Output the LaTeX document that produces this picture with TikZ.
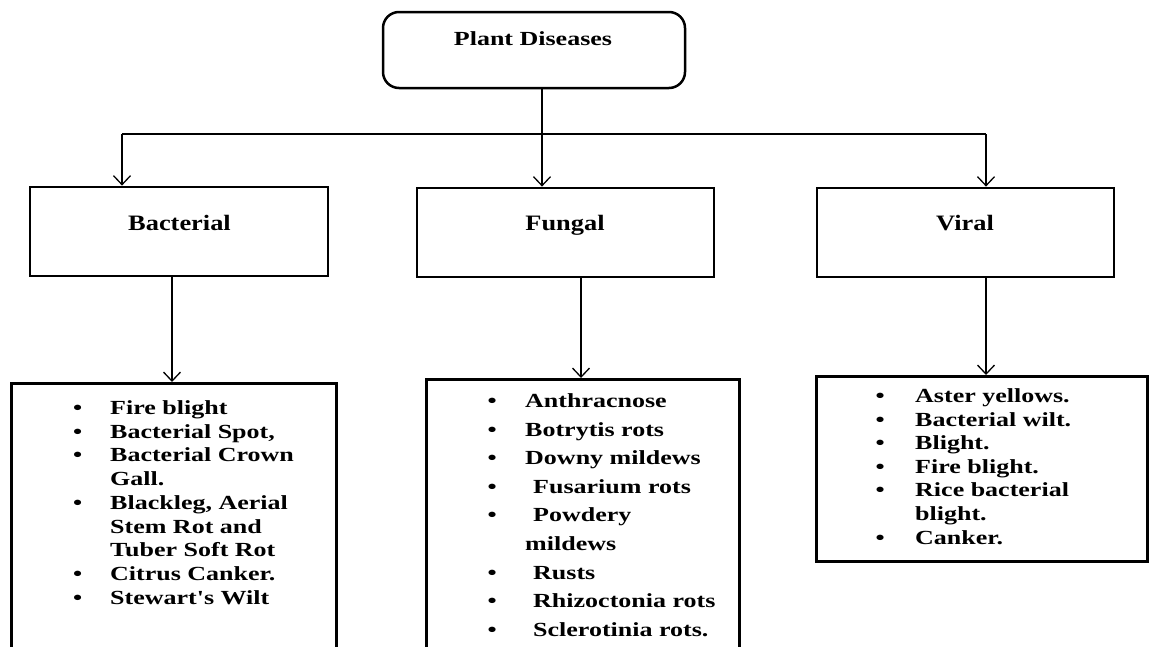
\documentclass[tikz,border=0pt]{standalone}
\usepackage{fontspec}
\setmainfont{Liberation Serif}
\newfontfamily\wideserif[FakeStretch=1.3]{Liberation Serif}
\newfontfamily\midserif[FakeStretch=1.2]{Liberation Serif}
\usetikzlibrary{arrows.meta}
\begin{document}
\begin{tikzpicture}[x=1pt,y=-1pt,
  box/.style={draw,line width=2.8pt,inner sep=0pt},
  conn/.style={line width=1.3pt},
  arr/.style={conn,-{Straight Barb[length=9pt,width=17pt,line width=1.3pt]}},
  catlabel/.style={font=\midserif\bfseries\fontsize{22}{26}\selectfont,inner sep=0pt,anchor=base},
  titlelabel/.style={font=\wideserif\bfseries\fontsize{20}{24}\selectfont,inner sep=0pt,anchor=base},
  item/.style={font=\wideserif\bfseries\fontsize{20}{24}\selectfont,inner sep=0pt,anchor=base west},
]
\useasboundingbox (0,0) rectangle (1150,646);
\fill[white] (0,0) rectangle (1150,646);

% title
\node[box,line width=2.5pt,rounded corners=16pt,minimum width=302pt,minimum height=76pt] (title) at (534,50) {};
\node[titlelabel] (titletext) at (533,45) {Plant Diseases};

% category boxes
\node[box,minimum width=298pt,minimum height=89pt] (bac) at (179,231.5) {};
\node[box,minimum width=297pt,minimum height=89pt] (fun) at (565.5,232.5) {};
\node[box,minimum width=297pt,minimum height=89pt] (vir) at (965.5,232.5) {};
\node[catlabel] (bactext) at (179.5,230) {Bacterial};
\node[catlabel] (funtext) at (565,230) {Fungal};
\node[catlabel] (virtext) at (965,230.5) {Viral};

% list boxes
\begin{scope}
\clip (0,0) rectangle (1150,646);
\node[box,anchor=north west,minimum width=325pt,minimum height=320pt] (bacL) at (10,382) {};
\node[box,anchor=north west,minimum width=313pt,minimum height=320pt] (funL) at (425,378) {};
\node[box,anchor=north west,minimum width=331pt,minimum height=185pt] (virL) at (815,375) {};
\end{scope}

% connectors
\coordinate (hub) at (542,134);
\coordinate (jL) at (122,134);
\coordinate (jR) at (986,134);
\draw[conn] (title.south -| hub) -- (hub);
\draw[conn] (jL) -- (jR);
\draw[arr] (hub) -- (hub |- fun.north);
\draw[arr] (jL) -- (jL |- bac.north);
\draw[arr] (jR) -- (jR |- vir.north);
\coordinate (dB) at (172,300);
\coordinate (dF) at (581,300);
\coordinate (dV) at (986,300);
\draw[arr] (bac.south -| dB) -- (bacL.north -| dB);
\draw[arr] (fun.south -| dF) -- (funL.north -| dF);
\draw[arr] (vir.south -| dV) -- (virL.north -| dV);

% bacterial list
\node[item] (bb1) at (73,414.5) {•}; \node[item] (bt1) at (110,414.5) {Fire blight};
\node[item] (bb2) at (73,438.2) {•}; \node[item] (bt2) at (110,438.2) {Bacterial Spot,};
\node[item] (bb3) at (73,461.9) {•}; \node[item] (bt3) at (110,461.9) {Bacterial Crown};
\node[item] (bt4) at (110,485.6) {Gall.};
\node[item] (bb5) at (73,509.3) {•}; \node[item] (bt5) at (110,509.3) {Blackleg, Aerial};
\node[item] (bt6) at (110,533.0) {Stem Rot and};
\node[item] (bt7) at (110,556.7) {Tuber Soft Rot};
\node[item] (bb8) at (73,580.4) {•}; \node[item] (bt8) at (110,580.4) {Citrus Canker.};
\node[item] (bb9) at (73,604.1) {•}; \node[item] (bt9) at (110,604.1) {Stewart's Wilt};

% fungal list
\node[item] (fb1) at (487.5,407.5) {•}; \node[item] (ft1) at (525,407.5) {Anthracnose};
\node[item] (fb2) at (487.5,436.1) {•}; \node[item] (ft2) at (525,436.1) {Botrytis rots};
\node[item] (fb3) at (487.5,464.7) {•}; \node[item] (ft3) at (525,464.7) {Downy mildews};
\node[item] (fb4) at (487.5,493.3) {•}; \node[item] (ft4) at (533,493.3) {Fusarium rots};
\node[item] (fb5) at (487.5,521.9) {•}; \node[item] (ft5) at (533,521.9) {Powdery};
\node[item] (ft6) at (525,550.5) {mildews};
\node[item] (fb7) at (487.5,579.1) {•}; \node[item] (ft7) at (533,579.1) {Rusts};
\node[item] (fb8) at (487.5,607.7) {•}; \node[item] (ft8) at (533,607.7) {Rhizoctonia rots};
\node[item] (fb9) at (487.5,636.3) {•}; \node[item] (ft9) at (533,636.3) {Sclerotinia rots.};

% viral list
\node[item] (vb1) at (875.5,402.5) {•}; \node[item] (vt1) at (915,402.5) {Aster yellows.};
\node[item] (vb2) at (875.5,426.1) {•}; \node[item] (vt2) at (915,426.1) {Bacterial wilt.};
\node[item] (vb3) at (875.5,449.7) {•}; \node[item] (vt3) at (915,449.7) {Blight.};
\node[item] (vb4) at (875.5,473.3) {•}; \node[item] (vt4) at (915,473.3) {Fire blight.};
\node[item] (vb5) at (875.5,496.9) {•}; \node[item] (vt5) at (915,496.9) {Rice bacterial};
\node[item] (vt6) at (915,520.5) {blight.};
\node[item] (vb7) at (875.5,544.1) {•}; \node[item] (vt7) at (915,544.1) {Canker.};
\end{tikzpicture}
\end{document}
